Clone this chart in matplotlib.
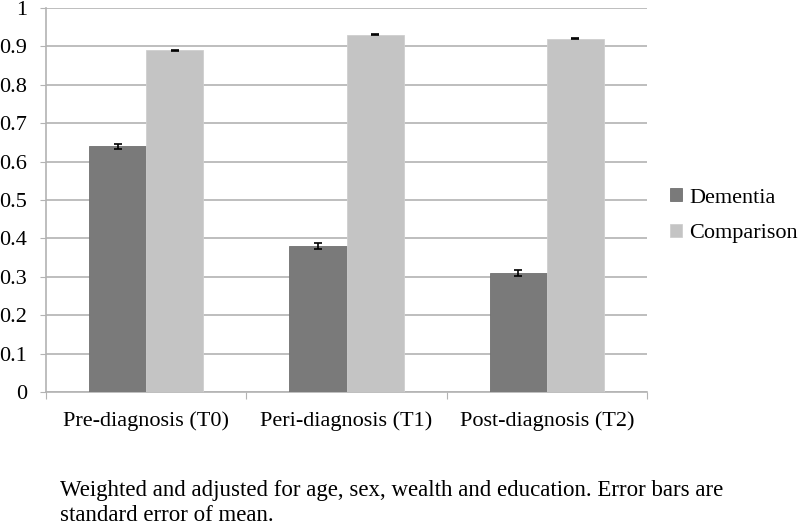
import matplotlib
matplotlib.use("Agg")
import matplotlib.pyplot as plt
import numpy as np

categories = ["Pre-diagnosis (T0)", "Peri-diagnosis (T1)", "Post-diagnosis (T2)"]
dementia = [0.64, 0.38, 0.31]
dementia_err = [0.007, 0.007, 0.007]
comparison = [0.89, 0.93, 0.92]
comparison_err = [0.001, 0.001, 0.001]
series_names = ["Dementia", "Comparison"]
yticks = [0, 0.1, 0.2, 0.3, 0.4, 0.5, 0.6, 0.7, 0.8, 0.9, 1]
ytick_labels = ["0", "0.1", "0.2", "0.3", "0.4", "0.5", "0.6", "0.7", "0.8", "0.9", "1"]
footnote = ("Weighted and adjusted for age, sex, wealth and education. Error bars are\n"
            "standard error of mean.")

plt.rcParams['font.family'] = ['Liberation Serif', 'DejaVu Serif']

fig = plt.figure(figsize=(8, 5.26), dpi=100)
ax = fig.add_axes([0.0575, 0.2548, 0.7513, 0.7300])

x = np.arange(len(categories))
w = 0.285
grid_c = "#b3b3b3"
ekw = dict(ecolor="black", elinewidth=1.2, capsize=3, capthick=1.2)
ax.bar(x - w/2, dementia, w, color="#7a7a7a", edgecolor="#707070", linewidth=0.6,
       yerr=dementia_err, error_kw=ekw, label=series_names[0], zorder=3)
ax.bar(x + w/2, comparison, w, color="#c4c4c4", edgecolor="#cfcfcf", linewidth=0.6,
       yerr=comparison_err, error_kw=ekw, label=series_names[1], zorder=3)

ax.set_xlim(-0.5, 2.5)
ax.set_ylim(0, 1)
ax.set_yticks(yticks)
ax.set_yticklabels(ytick_labels, fontsize=16)
ax.set_xticks([-0.5, 0.5, 1.5, 2.5])
ax.set_xticklabels([])
ax.set_xticks(x, minor=True)
ax.set_xticklabels(categories, minor=True, fontsize=16)
ax.tick_params(axis='x', which='minor', length=0, pad=14)
ax.tick_params(axis='x', which='major', length=5, color=grid_c, direction='out')
ax.tick_params(axis='y', length=4.5, color=grid_c, direction='out', pad=9)

ax.yaxis.grid(True, color=grid_c, linewidth=1.2, zorder=0)
ax.set_axisbelow(True)
for s in ["top", "right"]:
    ax.spines[s].set_visible(False)
for s in ["left", "bottom"]:
    ax.spines[s].set_color(grid_c)
    ax.spines[s].set_linewidth(1.2)

leg = fig.legend(loc="center left", bbox_to_anchor=(0.8375, 0.590), frameon=False,
                 fontsize=16, handlelength=0.55, handleheight=0.55, labelspacing=0.73,
                 handletextpad=0.3, borderpad=0, borderaxespad=0)

fig.text(0.075, 0.044, footnote, fontsize=16.5, va="center", ha="left", linespacing=1.25)

fig.savefig("out.png", dpi=100)
